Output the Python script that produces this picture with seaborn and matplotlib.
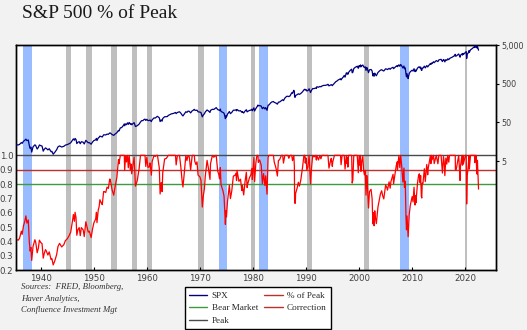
import numpy as np
import pandas as pd
import matplotlib
matplotlib.use("Agg")
import matplotlib.pyplot as plt
from matplotlib.lines import Line2D
from matplotlib.ticker import FixedLocator, FuncFormatter, NullLocator
import seaborn as sns

# S&P 500 level (decimal year, index value)
spx_dates = [
    1935.29, 1935.7, 1935.95, 1936.3, 1936.45, 1936.7, 1936.95, 1937.15, 1937.35, 1937.6,
    1937.8, 1937.95, 1938.1, 1938.25, 1938.5, 1938.85, 1939.0, 1939.28, 1939.5, 1939.7,
    1939.95, 1940.2, 1940.42, 1940.6, 1940.85, 1941.0, 1941.3, 1941.55, 1941.9, 1942.05,
    1942.3, 1942.6, 1942.95, 1943.2, 1943.5, 1943.9, 1944.3, 1944.6, 1944.95, 1945.3,
    1945.6, 1945.95, 1946.1, 1946.3, 1946.42, 1946.6, 1946.75, 1946.95, 1947.2, 1947.4,
    1947.6, 1947.95, 1948.15, 1948.45, 1948.7, 1948.9, 1949.1, 1949.45, 1949.7, 1949.95,
    1950.3, 1950.45, 1950.55, 1950.8, 1950.95, 1951.1, 1951.4, 1951.55, 1951.8, 1951.95,
    1952.2, 1952.45, 1952.7, 1952.95, 1953.05, 1953.4, 1953.7, 1953.95, 1954.3, 1954.6,
    1954.7, 1954.95, 1955.2, 1955.5, 1955.7, 1955.77, 1955.95, 1956.1, 1956.3, 1956.45,
    1956.62, 1956.85, 1956.95, 1957.1, 1957.3, 1957.55, 1957.8, 1957.95, 1958.15, 1958.5,
    1958.75, 1958.95, 1959.2, 1959.4, 1959.6, 1959.75, 1959.95, 1960.15, 1960.4, 1960.55,
    1960.8, 1960.95, 1961.3, 1961.55, 1961.75, 1961.95, 1962.1, 1962.3, 1962.45, 1962.65,
    1962.82, 1962.95, 1963.3, 1963.6, 1963.85, 1963.95, 1964.3, 1964.6, 1964.95, 1965.35,
    1965.47, 1965.7, 1965.95, 1966.1, 1966.35, 1966.6, 1966.75, 1966.95, 1967.3, 1967.5,
    1967.72, 1967.95, 1968.2, 1968.5, 1968.7, 1968.9, 1968.98, 1969.2, 1969.4, 1969.6,
    1969.95, 1970.15, 1970.4, 1970.6, 1970.8, 1970.95, 1971.3, 1971.55, 1971.85, 1971.95,
    1972.3, 1972.55, 1972.95, 1973.02, 1973.3, 1973.5, 1973.65, 1973.8, 1973.92, 1974.1,
    1974.3, 1974.5, 1974.65, 1974.75, 1974.85, 1974.95, 1975.15, 1975.5, 1975.7, 1975.95,
    1976.25, 1976.55, 1976.75, 1976.85, 1976.95, 1977.3, 1977.6, 1977.85, 1977.95, 1978.2,
    1978.45, 1978.7, 1978.85, 1978.95, 1979.3, 1979.55, 1979.75, 1979.83, 1979.95, 1980.12,
    1980.25, 1980.5, 1980.7, 1980.9, 1980.95, 1981.2, 1981.5, 1981.72, 1981.95, 1982.2,
    1982.35, 1982.6, 1982.8, 1982.95, 1983.3, 1983.5, 1983.8, 1983.95, 1984.3, 1984.55,
    1984.75, 1984.95, 1985.3, 1985.55, 1985.7, 1985.95, 1986.3, 1986.55, 1986.7, 1986.95,
    1987.25, 1987.4, 1987.65, 1987.75, 1987.8, 1987.93, 1987.98, 1988.3, 1988.5, 1988.7,
    1988.95, 1989.3, 1989.55, 1989.73, 1989.8, 1989.95, 1990.1, 1990.3, 1990.53, 1990.8,
    1990.95, 1991.2, 1991.45, 1991.75, 1991.9, 1991.98, 1992.3, 1992.55, 1992.75, 1992.95,
    1993.3, 1993.55, 1993.95, 1994.08, 1994.27, 1994.55, 1994.7, 1994.9, 1994.98, 1995.3,
    1995.55, 1995.75, 1995.95, 1996.3, 1996.45, 1996.55, 1996.75, 1996.95, 1997.15, 1997.3,
    1997.55, 1997.65, 1997.8, 1997.83, 1997.95, 1998.3, 1998.55, 1998.65, 1998.77, 1998.95,
    1999.25, 1999.5, 1999.6, 1999.8, 1999.95, 2000.1, 2000.22, 2000.3, 2000.45, 2000.66,
    2000.8, 2000.95, 2001.1, 2001.25, 2001.4, 2001.5, 2001.72, 2001.9, 2001.98, 2002.2,
    2002.4, 2002.55, 2002.65, 2002.78, 2002.9, 2002.98, 2003.2, 2003.5, 2003.95, 2004.2,
    2004.4, 2004.6, 2004.95, 2005.2, 2005.3, 2005.6, 2005.8, 2005.95, 2006.35, 2006.45,
    2006.95, 2007.15, 2007.18, 2007.45, 2007.62, 2007.78, 2007.95, 2008.2, 2008.4, 2008.5,
    2008.65, 2008.78, 2008.88, 2008.98, 2009.15, 2009.19, 2009.4, 2009.6, 2009.95, 2010.12,
    2010.3, 2010.5, 2010.6, 2010.66, 2010.95, 2011.15, 2011.3, 2011.45, 2011.55, 2011.68,
    2011.76, 2011.85, 2011.98, 2012.25, 2012.42, 2012.7, 2012.88, 2012.98, 2013.4, 2013.48,
    2013.6, 2013.7, 2013.98, 2014.1, 2014.5, 2014.8, 2014.98, 2015.4, 2015.65, 2015.85,
    2015.98, 2016.11, 2016.3, 2016.48, 2016.65, 2016.85, 2016.98, 2017.5, 2017.98, 2018.07,
    2018.1, 2018.25, 2018.72, 2018.98, 2019.05, 2019.33, 2019.42, 2019.55, 2019.6, 2019.98,
    2020.14, 2020.22, 2020.33, 2020.5, 2020.68, 2020.72, 2020.95, 2021.2, 2021.5, 2021.7,
    2021.75, 2021.9, 2021.92, 2022.0, 2022.1, 2022.18, 2022.25, 2022.35, 2022.4, 2022.46,
]
spx_values = [
    13.2, 13.0, 13.4, 15.0, 14.3, 16.2, 17.2, 18.4, 16.8, 17.5,
    12.6, 10.6, 11.4, 8.5, 11.6, 13.1, 12.6, 10.2, 11.2, 13.0,
    12.5, 12.2, 9.0, 10.0, 10.9, 10.6, 9.7, 10.4, 8.7, 8.9,
    7.5, 8.4, 9.8, 11.6, 12.3, 11.5, 12.0, 12.9, 13.3, 14.0,
    14.8, 17.4, 18.7, 17.2, 19.2, 18.0, 14.1, 15.3, 15.8, 14.0,
    15.8, 15.3, 13.8, 17.1, 15.8, 14.8, 15.0, 13.6, 15.4, 16.8,
    17.7, 19.2, 16.9, 19.8, 20.4, 22.0, 21.2, 20.9, 23.8, 23.8,
    23.6, 24.8, 24.5, 26.6, 26.5, 24.2, 23.0, 24.8, 27.0, 30.9,
    30.0, 35.9, 36.6, 41.0, 45.6, 40.8, 45.5, 43.5, 48.5, 44.3,
    49.7, 44.7, 46.7, 43.3, 46.0, 49.1, 39.0, 39.9, 41.0, 45.2,
    51.0, 55.2, 55.4, 58.7, 60.7, 56.0, 59.9, 55.6, 55.8, 57.5,
    52.3, 58.1, 65.1, 64.6, 68.6, 71.6, 69.0, 65.2, 52.3, 58.0,
    53.5, 63.1, 69.8, 70.0, 71.0, 75.0, 79.5, 83.2, 84.8, 90.1,
    84.1, 89.9, 92.4, 94.0, 86.5, 77.1, 73.2, 80.3, 94.0, 90.6,
    97.6, 96.5, 87.7, 99.6, 102.7, 108.4, 103.9, 101.5, 103.5, 93.5,
    92.1, 89.5, 69.3, 78.1, 83.3, 92.2, 104.6, 98.7, 90.2, 102.1,
    108.8, 107.4, 118.1, 120.2, 107.0, 104.3, 100.5, 110.0, 95.7, 93.0,
    90.3, 86.0, 72.2, 62.3, 73.9, 68.6, 81.6, 95.2, 83.9, 90.2,
    102.8, 103.4, 105.2, 99.0, 107.5, 98.4, 100.2, 90.7, 95.1, 87.0,
    98.0, 106.0, 93.2, 96.1, 101.6, 103.8, 109.3, 99.9, 107.9, 118.4,
    98.2, 114.2, 125.5, 140.5, 133.5, 136.0, 131.0, 112.8, 122.6, 111.0,
    120.4, 102.4, 138.5, 140.6, 160.0, 168.1, 172.7, 164.9, 157.0, 147.8,
    166.7, 167.2, 180.7, 192.5, 182.1, 211.3, 235.5, 236.1, 231.3, 242.2,
    291.7, 281.0, 336.8, 311.0, 224.8, 223.9, 247.1, 261.3, 273.5, 264.5,
    277.7, 309.6, 346.0, 359.8, 340.4, 353.4, 322.9, 330.8, 368.9, 295.5,
    330.2, 375.2, 371.2, 387.9, 375.2, 417.1, 403.7, 424.2, 414.0, 435.7,
    451.7, 451.0, 466.5, 482.0, 438.9, 462.0, 472.0, 445.0, 459.3, 514.7,
    562.1, 581.5, 615.9, 654.2, 670.6, 626.7, 687.3, 740.7, 816.3, 737.7,
    954.3, 899.5, 941.6, 876.0, 970.4, 1111.8, 1186.8, 957.3, 984.0, 1229.2,
    1335.2, 1372.7, 1420.0, 1247.4, 1469.3, 1366.4, 1527.5, 1356.6, 1454.6, 1517.7,
    1364.6, 1320.3, 1366.0, 1103.3, 1312.8, 1224.4, 965.8, 1139.5, 1148.1, 1165.0,
    1067.1, 797.7, 916.1, 776.8, 936.3, 879.8, 800.7, 974.5, 1111.9, 1150.0,
    1095.0, 1063.2, 1211.9, 1180.0, 1156.9, 1245.0, 1177.0, 1248.3, 1325.8, 1223.7,
    1418.3, 1459.0, 1374.1, 1539.2, 1406.7, 1565.2, 1468.4, 1273.4, 1426.6, 1214.9,
    1282.8, 899.2, 752.4, 903.3, 735.1, 676.5, 919.1, 1020.6, 1115.1, 1056.7,
    1217.3, 1022.6, 1125.1, 1047.2, 1257.6, 1343.0, 1363.6, 1265.4, 1345.0, 1119.5,
    1099.2, 1261.0, 1257.6, 1419.0, 1278.0, 1465.8, 1353.3, 1426.2, 1669.2, 1573.1,
    1709.7, 1655.5, 1848.4, 1741.9, 1978.9, 1862.5, 2058.9, 2130.8, 1867.6, 2109.8,
    2043.9, 1829.1, 2091.6, 2000.5, 2190.2, 2085.2, 2238.8, 2423.4, 2673.6, 2872.9,
    2581.0, 2588.3, 2930.8, 2416.6, 2704.1, 2945.8, 2744.5, 3025.9, 2840.6, 3230.8,
    3386.2, 2237.4, 2912.4, 3100.3, 3580.8, 3236.9, 3756.1, 3972.9, 4297.5, 4537.0,
    4307.5, 4701.7, 4513.0, 4796.6, 4326.5, 4170.7, 4631.6, 4131.9, 3900.8, 3666.8,
]

# High set in September 1929, before the series begins
PRIOR_PEAK = 31.86

# Reference levels as a share of the running peak
PEAK = 1.0
CORRECTION = 0.9
BEAR_MARKET = 0.8

# Shaded periods (decimal years); blue marks recessions with bear markets
shade_start = [1936.70, 1944.69, 1948.48, 1953.17, 1957.17, 1959.96, 1969.65,
               1973.57, 1979.60, 1981.10, 1990.11, 2000.87, 2007.66, 2019.87]
shade_end = [1938.28, 1945.58, 1949.57, 1954.25, 1958.11, 1960.90, 1970.72,
             1975.04, 1980.41, 1982.76, 1991.06, 2001.82, 2009.36, 2020.32]
shade_bear = [True, False, False, False, False, False, False,
              True, False, True, False, False, True, False]

year_ticks = [1940, 1950, 1960, 1970, 1980, 1990, 2000, 2010, 2020]
pct_ticks = [0.2, 0.3, 0.4, 0.5, 0.6, 0.7, 0.8, 0.9, 1.0]
spx_ticks = [5, 50, 500, 5000]

df = pd.DataFrame({"date": spx_dates, "SPX": spx_values})
running_peak = np.maximum(df["SPX"].cummax(), PRIOR_PEAK)
df["pct"] = df["SPX"] / running_peak

sns.set_theme(style="white")
plt.rcParams["font.family"] = ["DejaVu Sans"]

SERIF = ["Liberation Serif", "DejaVu Serif"]
NAVY = "#000080"
RED = "#FF0000"
DARK_RED = "#C0302B"
GREEN = "#3E9A3E"
PEAK_GRAY = "#4A4A4A"
BAR_BLUE = "#99BBFF"
BAR_GRAY = "#BFBFBF"
TICK_COLOR = "#404040"

fig = plt.figure(figsize=(5.27, 3.30), dpi=100, facecolor="#F2F2F2")
ax = fig.add_axes([16 / 527, 60 / 330, 480 / 527, 225 / 330])
ax.set_facecolor("white")

for s, e, bear in zip(shade_start, shade_end, shade_bear):
    ax.axvspan(s, e, color=BAR_BLUE if bear else BAR_GRAY, lw=0, zorder=0)

ax.axhline(PEAK, color=PEAK_GRAY, lw=1.0, zorder=2)
ax.axhline(CORRECTION, color=DARK_RED, lw=1.0, zorder=2)
ax.axhline(BEAR_MARKET, color=GREEN, lw=1.0, zorder=2)

sns.lineplot(data=df, x="date", y="pct", ax=ax, color=RED, lw=0.9,
             legend=False, zorder=3)

ax2 = ax.twinx()
ax2.patch.set_visible(False)
sns.lineplot(data=df, x="date", y="SPX", ax=ax2, color=NAVY, lw=0.9,
             legend=False, zorder=3)
ax2.set_yscale("log")

ax.set_xlim(1935.29, 2025.75)
ax.set_ylim(0.2, 1.77)
ax2.set_ylim(0.0076, 5000)

for a in (ax, ax2):
    a.set_xlabel("")
    a.set_ylabel("")
    a.grid(False)
    for sp in a.spines.values():
        sp.set_color("black")
        sp.set_linewidth(1.0)

ax.xaxis.set_major_locator(FixedLocator(year_ticks))
ax.xaxis.set_major_formatter(FuncFormatter(lambda v, p: f"{int(round(v))}"))
ax.tick_params(axis="x", direction="in", length=2.5, width=0.8, color="black",
               labelsize=6.2, labelcolor=TICK_COLOR, pad=3, bottom=True)

ax.yaxis.set_major_locator(FixedLocator(pct_ticks))
ax.yaxis.set_major_formatter(FuncFormatter(lambda v, p: f"{v:.1f}"))
ax.tick_params(axis="y", length=0, labelsize=6.2, labelcolor=TICK_COLOR,
               pad=2, left=True)

ax2.yaxis.set_major_locator(FixedLocator(spx_ticks))
ax2.yaxis.set_minor_locator(NullLocator())
ax2.yaxis.set_major_formatter(FuncFormatter(lambda v, p: f"{int(v):,}"))
ax2.tick_params(axis="y", direction="out", length=2.5, width=0.8, color="black",
                labelsize=5.8, labelcolor=TICK_COLOR, pad=1.5, right=True)

fig.text(22 / 527, 1 - 13 / 330, "S&P 500 % of Peak", family=SERIF,
         fontsize=14, color="#1A1A1A", va="center", ha="left")

source_lines = ["Sources:  FRED, Bloomberg,", "Haver Analytics,",
                "Confluence Investment Mgt"]
for i, line in enumerate(source_lines):
    fig.text(21 / 527, 1 - (287 + i * 11.7) / 330, line, family=SERIF,
             style="italic", fontsize=6.3, color="#333333", va="center",
             ha="left")

handles = [
    Line2D([], [], color=NAVY, lw=1.0, label="SPX"),
    Line2D([], [], color=GREEN, lw=1.0, label="Bear Market"),
    Line2D([], [], color=PEAK_GRAY, lw=1.0, label="Peak"),
    Line2D([], [], color=DARK_RED, lw=1.0, label="% of Peak"),
    Line2D([], [], color=DARK_RED, lw=1.0, label="Correction"),
]
leg = fig.legend(handles=handles, ncol=2, loc="lower left",
                 bbox_to_anchor=(185 / 527, 1 / 330),
                 prop={"family": SERIF, "size": 6.6},
                 frameon=True, fancybox=False, edgecolor="black",
                 framealpha=1, handlelength=2.0, handletextpad=0.45,
                 columnspacing=0.7, labelspacing=0.45, borderpad=0.45,
                 borderaxespad=0)
leg.get_frame().set_linewidth(1.0)
leg.get_frame().set_facecolor("white")

fig.savefig("out.png", dpi=100, facecolor=fig.get_facecolor())
